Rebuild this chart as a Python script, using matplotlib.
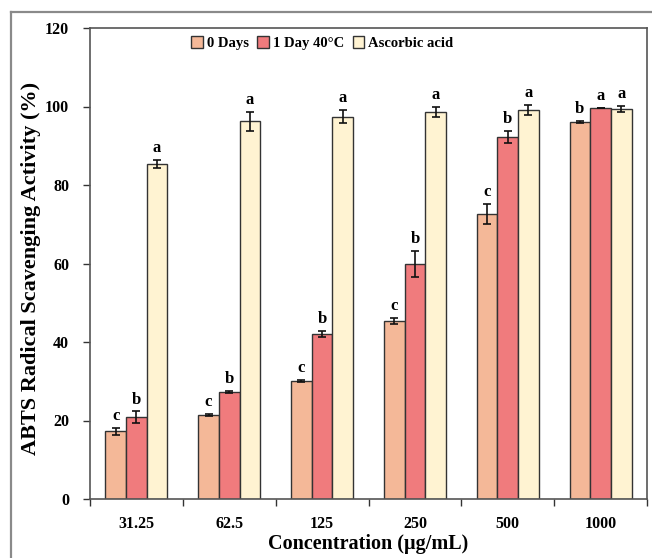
import matplotlib
matplotlib.use("Agg")
import matplotlib.pyplot as plt
import numpy as np
from matplotlib.lines import Line2D

plt.rcParams['font.family'] = ['Liberation Serif', 'DejaVu Serif']
plt.rcParams['font.weight'] = 'bold'

concentrations = ["31.25", "62.5", "125", "250", "500", "1000"]
series_names = ["0 Days", "1 Day 40\u00b0C", "Ascorbic acid"]
days0 = [17.2, 21.4, 30.1, 45.3, 72.6, 96.0]
day1_40c = [20.8, 27.2, 42.1, 59.9, 92.3, 99.6]
ascorbic = [85.4, 96.2, 97.4, 98.6, 99.1, 99.4]
err_days0 = [0.8, 0.3, 0.2, 0.8, 2.5, 0.3]
err_day1 = [1.5, 0.3, 0.8, 3.3, 1.5, 0.1]
err_asc = [1.0, 2.5, 1.7, 1.2, 1.3, 0.8]
letters_days0 = ["c", "c", "c", "c", "c", "b"]
letters_day1 = ["b", "b", "b", "b", "b", "a"]
letters_asc = ["a", "a", "a", "a", "a", "a"]

colors = ["#F4B898", "#F07B7D", "#FFF3D2"]

fig = plt.figure(figsize=(6.52, 5.58), dpi=100)
# outer frame of the original figure
fig.add_artist(Line2D([11 / 652, 11 / 652], [0, 1 - 12 / 558], color="#8a8a8a", lw=1.6))
fig.add_artist(Line2D([11 / 652, 1], [1 - 12 / 558, 1 - 12 / 558], color="#8a8a8a", lw=1.6))

ax = fig.add_axes([90 / 652, 1 - 499 / 558, 557 / 652, 471 / 558])

x = np.arange(len(concentrations))
w = 0.223
series = [days0, day1_40c, ascorbic]
errs = [err_days0, err_day1, err_asc]
letters = [letters_days0, letters_day1, letters_asc]

for i, (vals, err, lab, col, name) in enumerate(zip(series, errs, letters, colors, series_names)):
    pos = x + (i - 1) * w
    ax.bar(pos, vals, width=w, color=col, edgecolor="#333333", linewidth=1.0, label=name, zorder=2)
    ax.errorbar(pos, vals, yerr=err, fmt="none", ecolor="#111111", elinewidth=1.2, capsize=3, capthick=1.2, zorder=3)
    for p, v, e, t in zip(pos, vals, err, lab):
        ax.text(p, v + e + 1.0, t, ha="center", va="bottom", fontsize=12, fontweight="bold")

ax.set_xlim(-0.5, len(concentrations) - 0.5)
ax.set_ylim(0, 120)
ax.set_yticks(np.arange(0, 121, 20))
ax.set_xticks(x)
ax.set_xticklabels(concentrations)
ax.set_xticks(np.arange(-0.5, len(concentrations), 1.0), minor=True)
ax.tick_params(axis="x", which="major", length=0, labelsize=11.5, pad=12)
ax.tick_params(axis="x", which="minor", length=5, width=1, direction="out", color="#333333")
ax.tick_params(axis="y", length=5, width=1, direction="out", labelsize=11.5, pad=10, color="#333333")
for s in ax.spines.values():
    s.set_color("#555555")
    s.set_linewidth(1.2)

ax.set_xlabel("Concentration (\u00b5g/mL)", fontsize=14.5, fontweight="bold", labelpad=2)
ax.set_ylabel("ABTS Radical Scavenging Activity (%)", fontsize=16, fontweight="bold")
ax.yaxis.set_label_coords((41 - 90) / 557, 0.49)

ax.legend(loc="upper center", bbox_to_anchor=(0.417, 1.01), ncol=3, frameon=False,
          handlelength=0.8, handleheight=0.8, handletextpad=0.25, columnspacing=0.6,
          prop={"weight": "bold", "size": 10.5})

fig.savefig("out.png", dpi=100)
